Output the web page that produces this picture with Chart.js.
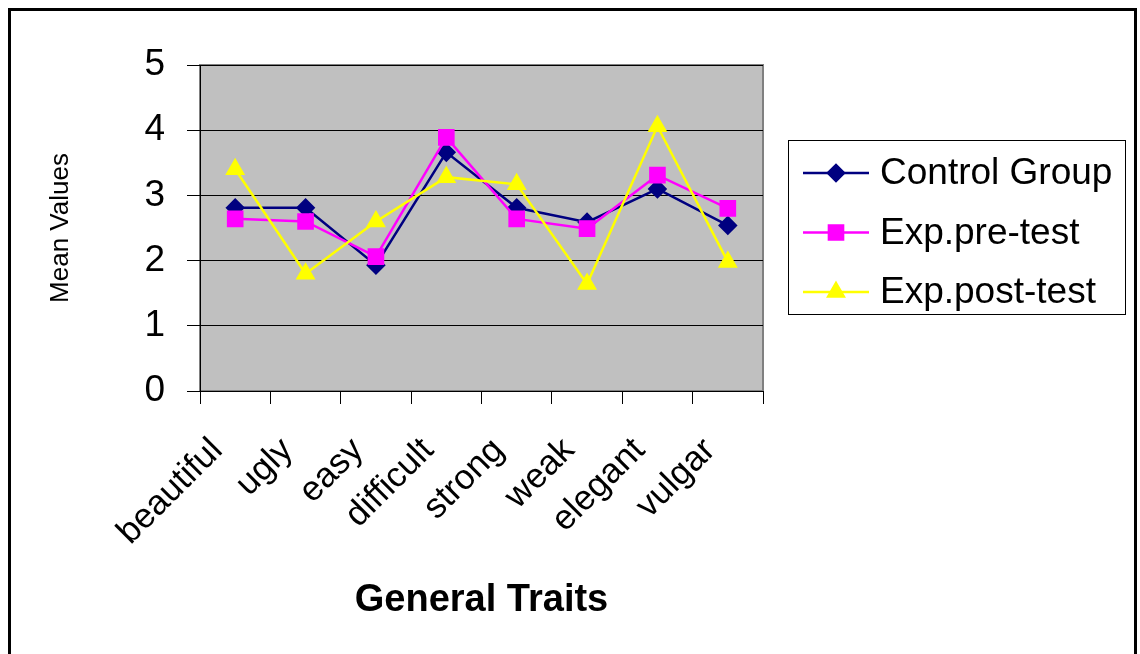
<!DOCTYPE html>
<html>
<head>
<meta charset="utf-8">
<script src="https://cdn.jsdelivr.net/npm/chart.js@4/dist/chart.umd.min.js"></script>
<style>
  html, body { margin: 0; padding: 0; background: #fff; }
  #wrap { width: 1140px; height: 654px; }
</style>
</head>
<body>
<div id="wrap"><canvas id="c" width="1140" height="654"></canvas></div>
<script>
const categories = ['beautiful', 'ugly', 'easy', 'difficult', 'strong', 'weak', 'elegant', 'vulgar'];
const controlGroup = [2.81, 2.81, 1.93, 3.66, 2.81, 2.59, 3.10, 2.54];
const expPreTest = [2.64, 2.60, 2.06, 3.89, 2.64, 2.49, 3.31, 2.80];
const expPostTest = [3.40, 1.80, 2.60, 3.28, 3.17, 1.64, 4.06, 1.98];
const seriesNames = ['Control Group', 'Exp.pre-test', 'Exp.post-test'];
const yTicks = [0, 1, 2, 3, 4, 5];

const FONT = "'Liberation Sans', Arial, sans-serif";

const frame = {
  id: 'frame',
  beforeDraw(chart) {
    const ctx = chart.ctx;
    const a = chart.chartArea;
    ctx.save();
    ctx.fillStyle = '#ffffff';
    ctx.fillRect(0, 0, chart.width, chart.height);
    ctx.fillStyle = '#C0C0C0';
    ctx.fillRect(a.left, a.top, a.right - a.left, a.bottom - a.top);
    ctx.strokeStyle = '#808080';
    ctx.lineWidth = 2;
    ctx.strokeRect(a.left, a.top, a.right - a.left, a.bottom - a.top);
    ctx.restore();
  },
  afterDraw(chart) {
    const ctx = chart.ctx;
    ctx.save();
    // outer border
    ctx.strokeStyle = '#000';
    ctx.lineWidth = 3;
    ctx.strokeRect(9.5, 9.5, 1126, 800);
    // legend
    ctx.fillStyle = '#fff';
    ctx.fillRect(788.5, 140.5, 337, 174);
    ctx.lineWidth = 1;
    ctx.strokeStyle = '#000';
    ctx.strokeRect(788.5, 140.5, 337, 174);
    chart.data.datasets.forEach((ds, i) => {
      const y = 173 + i * 59.5;
      ctx.strokeStyle = ds.borderColor;
      ctx.lineWidth = 2.5;
      ctx.beginPath();
      ctx.moveTo(803, y);
      ctx.lineTo(869, y);
      ctx.stroke();
      ctx.fillStyle = ds.pointBackgroundColor;
      ctx.strokeStyle = ds.pointBorderColor;
      Chart.helpers.drawPoint(ctx, {
        pointStyle: ds.pointStyle,
        radius: ds.pointRadius,
        rotation: 0,
        borderWidth: 1
      }, 836, y);
      ctx.fillStyle = '#000';
      ctx.font = '37px ' + FONT;
      ctx.textAlign = 'left';
      ctx.textBaseline = 'middle';
      ctx.fillText(ds.label, 880, y + 1);
    });
    ctx.restore();
  }
};

new Chart(document.getElementById('c'), {
  type: 'line',
  data: {
    labels: categories,
    datasets: [
      {
        label: seriesNames[0], data: controlGroup, order: 3,
        borderColor: '#000080', backgroundColor: '#000080',
        pointBackgroundColor: '#000080', pointBorderColor: '#000080',
        pointStyle: 'rectRot', pointRadius: 8, pointHoverRadius: 8,
        borderWidth: 2.5, tension: 0, fill: false
      },
      {
        label: seriesNames[1], data: expPreTest, order: 2,
        borderColor: '#FF00FF', backgroundColor: '#FF00FF',
        pointBackgroundColor: '#FF00FF', pointBorderColor: '#FF00FF',
        pointStyle: 'rect', pointRadius: 10, pointHoverRadius: 10,
        borderWidth: 2.5, tension: 0, fill: false
      },
      {
        label: seriesNames[2], data: expPostTest, order: 1,
        borderColor: '#FFFF00', backgroundColor: '#FFFF00',
        pointBackgroundColor: '#FFFF00', pointBorderColor: '#FFFF00',
        pointStyle: 'triangle', pointRadius: 9, pointHoverRadius: 9,
        borderWidth: 2.5, tension: 0, fill: false
      }
    ]
  },
  options: {
    responsive: false,
    animation: false,
    devicePixelRatio: 1,
    layout: { padding: { left: 0, top: 65, right: 377, bottom: 0 } },
    plugins: {
      legend: { display: false },
      tooltip: { enabled: false },
      title: { display: false }
    },
    scales: {
      x: {
        type: 'category',
        offset: true,
        grid: {
          display: true, offset: true, drawOnChartArea: false, drawTicks: true,
          tickLength: 13, color: '#000', lineWidth: 1
        },
        border: { display: true, color: '#000', width: 1 },
        ticks: {
          autoSkip: false, minRotation: 45, maxRotation: 45,
          color: '#000', font: { family: FONT, size: 35 }, padding: 26,
          labelOffset: -18
        },
        title: {
          display: true, text: 'General Traits', color: '#000',
          font: { family: FONT, size: 38, weight: 'bold' },
          padding: { top: 0, bottom: 31 }
        },
        afterFit(scale) { scale.height = 263; }
      },
      y: {
        min: 0, max: 5,
        afterBuildTicks(scale) { scale.ticks = yTicks.map(v => ({ value: v })); },
        grid: {
          display: true, drawOnChartArea: true, drawTicks: true,
          tickLength: 13, color: '#000', lineWidth: 1
        },
        border: { display: true, color: '#000', width: 1 },
        ticks: {
          color: '#000', font: { family: FONT, size: 37 }, padding: 22
        },
        title: {
          display: true, text: 'Mean Values', color: '#000',
          font: { family: FONT, size: 26 },
          padding: { top: 45, bottom: 0 }
        },
        afterFit(scale) { scale.width = 200; }
      }
    }
  },
  plugins: [frame]
});
</script>
</body>
</html>
